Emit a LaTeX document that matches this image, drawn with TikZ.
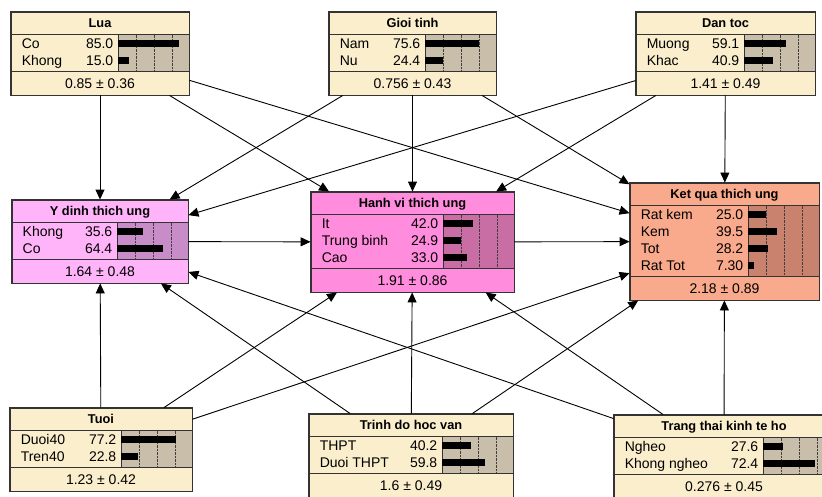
\documentclass[tikz,border=0pt]{standalone}
\usepackage{fontspec}
\setmainfont{Liberation Sans}
\usetikzlibrary{arrows.meta,calc}

\definecolor{beige}{RGB}{250,238,205}
\definecolor{beigebar}{RGB}{200,190,170}
\definecolor{lilac}{RGB}{255,180,250}
\definecolor{lilacbar}{RGB}{200,140,200}
\definecolor{rose}{RGB}{255,140,220}
\definecolor{rosebar}{RGB}{200,110,165}
\definecolor{salmon}{RGB}{250,170,140}
\definecolor{salmonbar}{RGB}{200,130,110}

\tikzset{
  netnode/.style={draw=black!80, line width=0.9pt, rectangle, inner sep=0pt},
  sepline/.style={draw=black!80, line width=0.9pt},
  titletext/.style={font=\fontsize{12.8}{15}\selectfont\bfseries, inner sep=0pt},
  statetext/.style={font=\fontsize{14}{16}\selectfont, inner sep=0pt},
  link/.style={-{Triangle[length=10pt,width=9pt]}, line width=0.9pt}
}

% box: name, left, top, width, states, fill, bar fill, title, footer
\newcommand{\netbox}[9]{%
  \pgfmathsetmacro{\nbh}{49+17*#5}
  \pgfmathsetmacro{\nsy}{26+17*#5}
  \node[netnode, fill=#6, minimum width=#4, minimum height=\nbh] (#1) at ({#2+#4/2},{#3+\nbh/2}) {};
  \fill[#7] ($(#1.north east)+(-71,23)$) rectangle ($(#1.north east)+(0,\nsy)$);
  \foreach \k in {1,2,3}{\draw[densely dotted, black!75] ($(#1.north east)+({-71+17.75*\k},23)$) -- ($(#1.north east)+({-71+17.75*\k},\nsy)$);}
  \draw[sepline] ($(#1.north east)+(-71,23)$) -- ($(#1.north east)+(-71,\nsy)$);
  \draw[sepline] ($(#1.north west)+(0,23)$) -- ($(#1.north east)+(0,23)$);
  \draw[sepline] ($(#1.north west)+(0,\nsy)$) -- ($(#1.north east)+(0,\nsy)$);
  \draw[sepline] (#1.north west) rectangle (#1.south east);
  \node[titletext, anchor=base] (#1-t) at ($(#1.north)+(0,16)$) {#8};
  \node[statetext, anchor=base] (#1-f) at ($(#1.north)+(0,\nsy+16.5)$) {#9};
}

% state row: name, row, label, value, percent
\newcommand{\netstate}[5]{%
  \pgfmathsetmacro{\ny}{32+17*(#2-1)}
  \node[statetext, anchor=base west] (#1-s#2) at ($(#1.north west)+(11,\ny+5)$) {#3};
  \node[statetext, anchor=base east] (#1-v#2) at ($(#1.north east)+(-76,\ny+5)$) {#4};
  \fill ($(#1.north east)+(-71,\ny-3.5)$) rectangle ($(#1.north east)+({-71+0.71*#5},\ny+3.5)$);
}

\begin{document}
\begin{tikzpicture}[x=1pt,y=-1pt]
\useasboundingbox (0,0) rectangle (822,496);
\clip (0,0) rectangle (822,496);

% parents
\netbox{lua}{11}{12}{178}{2}{beige}{beigebar}{Lua}{0.85 ± 0.36}
\netstate{lua}{1}{Co}{85.0}{85}
\netstate{lua}{2}{Khong}{15.0}{15}

\netbox{gioitinh}{329}{12}{167}{2}{beige}{beigebar}{Gioi tinh}{0.756 ± 0.43}
\netstate{gioitinh}{1}{Nam}{75.6}{75.6}
\netstate{gioitinh}{2}{Nu}{24.4}{24.4}

\netbox{dantoc}{636}{12}{179}{2}{beige}{beigebar}{Dan toc}{1.41 ± 0.49}
\netstate{dantoc}{1}{Muong}{59.1}{59.1}
\netstate{dantoc}{2}{Khac}{40.9}{40.9}

% middle row
\netbox{ydinh}{12}{200}{176}{2}{lilac}{lilacbar}{Y dinh thich ung}{1.64 ± 0.48}
\netstate{ydinh}{1}{Khong}{35.6}{35.6}
\netstate{ydinh}{2}{Co}{64.4}{64.4}

\netbox{hanhvi}{311}{192}{203}{3}{rose}{rosebar}{Hanh vi thich ung}{1.91 ± 0.86}
\netstate{hanhvi}{1}{It}{42.0}{42}
\netstate{hanhvi}{2}{Trung binh}{24.9}{24.9}
\netstate{hanhvi}{3}{Cao}{33.0}{33}

\netbox{ketqua}{630}{183}{189}{4}{salmon}{salmonbar}{Ket qua thich ung}{2.18 ± 0.89}
\netstate{ketqua}{1}{Rat kem}{25.0}{25}
\netstate{ketqua}{2}{Kem}{39.5}{39.5}
\netstate{ketqua}{3}{Tot}{28.2}{28.2}
\netstate{ketqua}{4}{Rat Tot}{7.30}{7.3}

% bottom row
\netbox{tuoi}{10}{408}{182}{2}{beige}{beigebar}{Tuoi}{1.23 ± 0.42}
\netstate{tuoi}{1}{Duoi40}{77.2}{77.2}
\netstate{tuoi}{2}{Tren40}{22.8}{22.8}

\netbox{hocvan}{309}{414}{204}{2}{beige}{beigebar}{Trinh do hoc van}{1.6 ± 0.49}
\netstate{hocvan}{1}{THPT}{40.2}{40.2}
\netstate{hocvan}{2}{Duoi THPT}{59.8}{59.8}

\netbox{kinhte}{614}{415}{220}{2}{beige}{beigebar}{Trang thai kinh te ho}{0.276 ± 0.45}
\netstate{kinhte}{1}{Ngheo}{27.6}{27.6}
\netstate{kinhte}{2}{Khong ngheo}{72.4}{72.4}

% links
\foreach \src in {lua,gioitinh,dantoc,tuoi,hocvan,kinhte}{
  \draw[link] (\src) -- (ydinh);
  \draw[link] (\src) -- (hanhvi);
  \draw[link] (\src) -- (ketqua);
}
\draw[link] (ydinh) -- (hanhvi);
\draw[link] (hanhvi) -- (ketqua);
\end{tikzpicture}
\end{document}
